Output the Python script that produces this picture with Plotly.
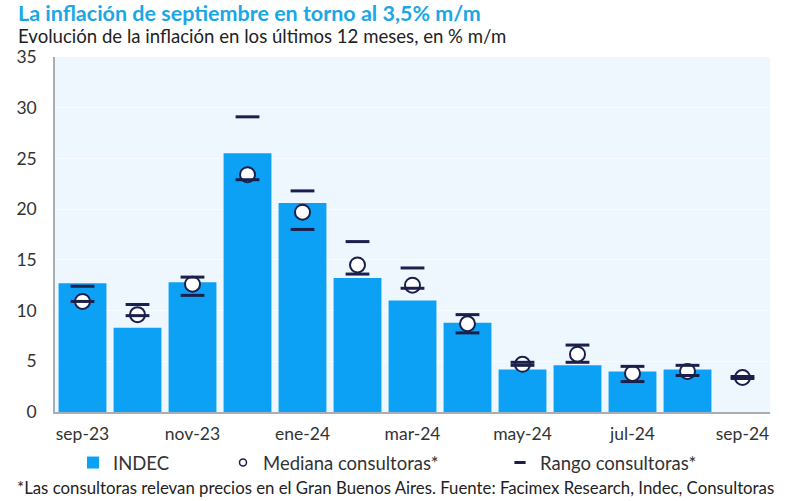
import plotly.graph_objects as go

months = ["sep-23", "oct-23", "nov-23", "dic-23", "ene-24", "feb-24", "mar-24",
          "abr-24", "may-24", "jun-24", "jul-24", "ago-24", "sep-24"]
indec = [12.7, 8.3, 12.8, 25.5, 20.6, 13.2, 11.0, 8.8, 4.2, 4.6, 4.0, 4.2, None]
mediana = [10.9, 9.6, 12.6, 23.4, 19.7, 14.5, 12.5, 8.7, 4.7, 5.7, 3.8, 4.0, 3.4]
rango_max = [12.4, 10.6, 13.3, 29.1, 21.8, 16.8, 14.2, 9.6, 4.9, 6.6, 4.5, 4.6, 3.5]
rango_min = [10.9, 9.5, 11.5, 22.9, 18.0, 13.6, 12.2, 7.8, 4.6, 4.9, 3.0, 3.6, 3.3]
tick_labels = ["sep-23", "nov-23", "ene-24", "mar-24", "may-24", "jul-24", "sep-24"]

BLUE = "#0DA1F6"
NAVY = "#1B1F4B"
FONT = "Lato"
TXT = "#333333"

fig = go.Figure()
fig.add_trace(go.Bar(x=months, y=indec, name="INDEC", legend="legend",
                     marker=dict(color=BLUE, line=dict(width=0))))
fig.add_trace(go.Scatter(x=months, y=mediana, mode="markers", showlegend=False,
                         marker=dict(symbol="circle", size=15, color="white", line=dict(color=NAVY, width=2))))
fig.add_trace(go.Scatter(x=months, y=rango_max, mode="markers", showlegend=False,
                         marker=dict(symbol="line-ew", size=17, line=dict(color=NAVY, width=3))))
fig.add_trace(go.Scatter(x=months, y=rango_min, mode="markers", showlegend=False,
                         marker=dict(symbol="line-ew", size=17, line=dict(color=NAVY, width=3))))
# legend-only proxies with small symbols, as in the reference legend
fig.add_trace(go.Scatter(x=[None], y=[None], mode="markers", name="Mediana consultoras*",
                         legend="legend2",
                         marker=dict(symbol="circle", size=7, color="white", line=dict(color=NAVY, width=1.5))))
fig.add_trace(go.Scatter(x=[None], y=[None], mode="markers", name="Rango consultoras*",
                         legend="legend3",
                         marker=dict(symbol="line-ew", size=8, line=dict(color=NAVY, width=3))))

leg_common = dict(orientation="h", xref="container", yref="container", xanchor="left",
                  yanchor="middle", y=1 - 463 / 501, font=dict(size=18.5, color=TXT, family=FONT),
                  bgcolor="rgba(0,0,0,0)", itemwidth=30)

fig.update_layout(
    width=800, height=501,
    margin=dict(l=55, r=30, t=57, b=89, autoexpand=False),
    paper_bgcolor="white",
    plot_bgcolor="#EFF7FE",
    bargap=0.13,
    font=dict(family=FONT, color=TXT),
    showlegend=True,
    legend=dict(leg_common, x=73 / 800),
    legend2=dict(leg_common, x=223 / 800),
    legend3=dict(leg_common, x=500 / 800),
    xaxis=dict(type="category", categoryorder="array", categoryarray=months,
               tickvals=tick_labels, ticktext=tick_labels, range=[-0.5, 12.5],
               showgrid=False, showline=True, linecolor="#A9AEB5", linewidth=1.5,
               ticks="", tickfont=dict(size=17.5, color=TXT), ticklabelstandoff=5,
               automargin=False),
    yaxis=dict(range=[0, 35], dtick=5, showgrid=True, gridcolor="#F8FBFF", gridwidth=1,
               showline=True, linecolor="#A9AEB5", linewidth=1.5, zeroline=False,
               ticks="", tickfont=dict(size=17.5, color=TXT), ticklabelstandoff=13,
               automargin=False),
)

fig.add_annotation(text="<b>La inflación de septiembre en torno al 3,5% m/m</b>",
                   xref="paper", yref="paper", x=(16 - 55) / 715, y=(412 - 13) / 355,
                   xanchor="left", yanchor="middle",
                   showarrow=False, font=dict(size=21.5, color="#1AA7E6", family=FONT))
fig.add_annotation(text="Evolución de la inflación en los últimos 12 meses, en % m/m",
                   xref="paper", yref="paper", x=(16 - 55) / 715, y=(412 - 36) / 355,
                   xanchor="left", yanchor="middle",
                   showarrow=False, font=dict(size=18.6, color="#222222", family=FONT))
fig.add_annotation(text="*Las consultoras relevan precios en el Gran Buenos Aires. Fuente: Facimex Research, Indec, Consultoras",
                   xref="paper", yref="paper", x=(15 - 55) / 715, y=(412 - 487) / 355,
                   xanchor="left", yanchor="middle",
                   showarrow=False, font=dict(size=16.8, color="#222222", family=FONT))

fig.write_html("out.html", config={"displayModeBar": False},
               post_script="document.body.style.margin='0';")
